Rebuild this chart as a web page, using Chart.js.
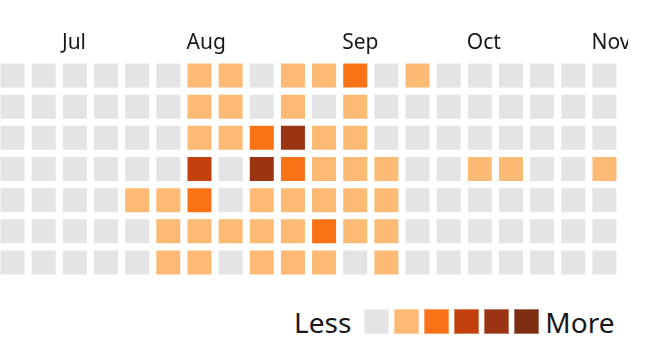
<!DOCTYPE html>
<html>
<head>
<meta charset="utf-8">
<script src="https://cdn.jsdelivr.net/npm/chart.js@4/dist/chart.umd.min.js"></script>
<style>
  html, body { margin: 0; padding: 0; background: #ffffff; }
  body { width: 647px; height: 356px; position: relative; overflow: hidden; font-family: "Noto Sans", sans-serif; }
  #clip { position: absolute; left: 0; top: 0; width: 628px; height: 300px; overflow: hidden; }
  #box { position: absolute; left: -3px; top: 0; width: 680px; height: 300px; }
  #legend { position: absolute; left: 294px; top: 309px; height: 25px; display: flex; align-items: center; color: #18181b; font-size: 28px; line-height: 1; }
  #legend .sw { width: 25px; height: 25px; margin-right: 5px; box-sizing: border-box; border: 1px solid rgba(255,255,255,0.35); }
  #legend .less { margin-right: 13px; }
  #legend .more { margin-left: 1px; }
</style>
</head>
<body>
<div id="clip"><div id="box"><canvas id="c"></canvas></div></div>
<div id="legend"></div>
<script>
// Month tick labels and the week column where each month begins
const monthLabels = ['Jul', 'Aug', 'Sep', 'Oct', 'Nov'];
const monthStartWeeks = [2, 6, 11, 15, 19];
const weekCount = 20;
const dayNames = ['Sun', 'Mon', 'Tue', 'Wed', 'Thu', 'Fri', 'Sat'];

// Activity level (0-5) per week, one array per weekday row
const sun = [0,0,0,0,0,0,1,1,0,1,1,2,0,1,0,0,0,0,0,0];
const mon = [0,0,0,0,0,0,1,1,0,1,0,1,0,0,0,0,0,0,0,0];
const tue = [0,0,0,0,0,0,1,1,2,4,1,1,0,0,0,0,0,0,0,0];
const wed = [0,0,0,0,0,0,3,0,4,2,1,1,1,0,0,1,1,0,0,1];
const thu = [0,0,0,0,1,1,2,0,1,1,1,1,1,0,0,0,0,0,0,0];
const fri = [0,0,0,0,0,1,1,1,1,1,2,1,1,0,0,0,0,0,0,0];
const sat = [0,0,0,0,0,1,1,0,1,1,1,0,1,0,0,0,0,0,0,0];
const rows = [sun, mon, tue, wed, thu, fri, sat];

const levelColors = ['#e4e4e7', '#fdba74', '#f97316', '#c2410c', '#9a3412', '#7c2d12'];

const cellGap = 0.0825;
const cells = [];
rows.forEach((row, r) => {
  row.forEach((v, w) => {
    cells.push({ x: w + 0.5, y: [r + cellGap, r + 1 - cellGap], level: v });
  });
});

new Chart(document.getElementById('c'), {
  type: 'bar',
  data: {
    datasets: [{
      data: cells,
      backgroundColor: ctx => levelColors[ctx.raw ? ctx.raw.level : 0],
      borderColor: 'rgba(255,255,255,0.35)',
      borderWidth: 1,
      borderSkipped: false,
      categoryPercentage: 1,
      barPercentage: 0.835
    }]
  },
  options: {
    responsive: true,
    maintainAspectRatio: false,
    animation: false,
    events: [],
    layout: { padding: { left: 0, right: 57, top: 0, bottom: 22 } },
    plugins: { legend: { display: false }, tooltip: { enabled: false } },
    scales: {
      x: {
        type: 'linear',
        position: 'top',
        offset: false,
        min: 0,
        max: weekCount,
        grid: { display: false, drawTicks: false, offset: false },
        border: { display: false },
        afterFit: s => { s.height = 60; s.paddingLeft = 0; s.paddingRight = 0; },
        afterBuildTicks: s => { s.ticks = monthStartWeeks.map(v => ({ value: v })); },
        ticks: {
          autoSkip: false,
          maxRotation: 0,
          align: 'start',
          labelOffset: 2.6,
          padding: 4,
          color: '#18181b',
          font: { family: 'Noto Sans', size: 21 },
          callback: v => { const i = monthStartWeeks.indexOf(v); return i >= 0 ? monthLabels[i] : ''; }
        }
      },
      y: {
        type: 'linear',
        min: 0,
        max: dayNames.length,
        reverse: true,
        display: false
      }
    }
  }
});

const legend = document.getElementById('legend');
const less = document.createElement('span'); less.className = 'less'; less.textContent = 'Less'; legend.appendChild(less);
levelColors.forEach(c => { const d = document.createElement('div'); d.className = 'sw'; d.style.background = c; legend.appendChild(d); });
const more = document.createElement('span'); more.className = 'more'; more.textContent = 'More'; legend.appendChild(more);
</script>
</body>
</html>
